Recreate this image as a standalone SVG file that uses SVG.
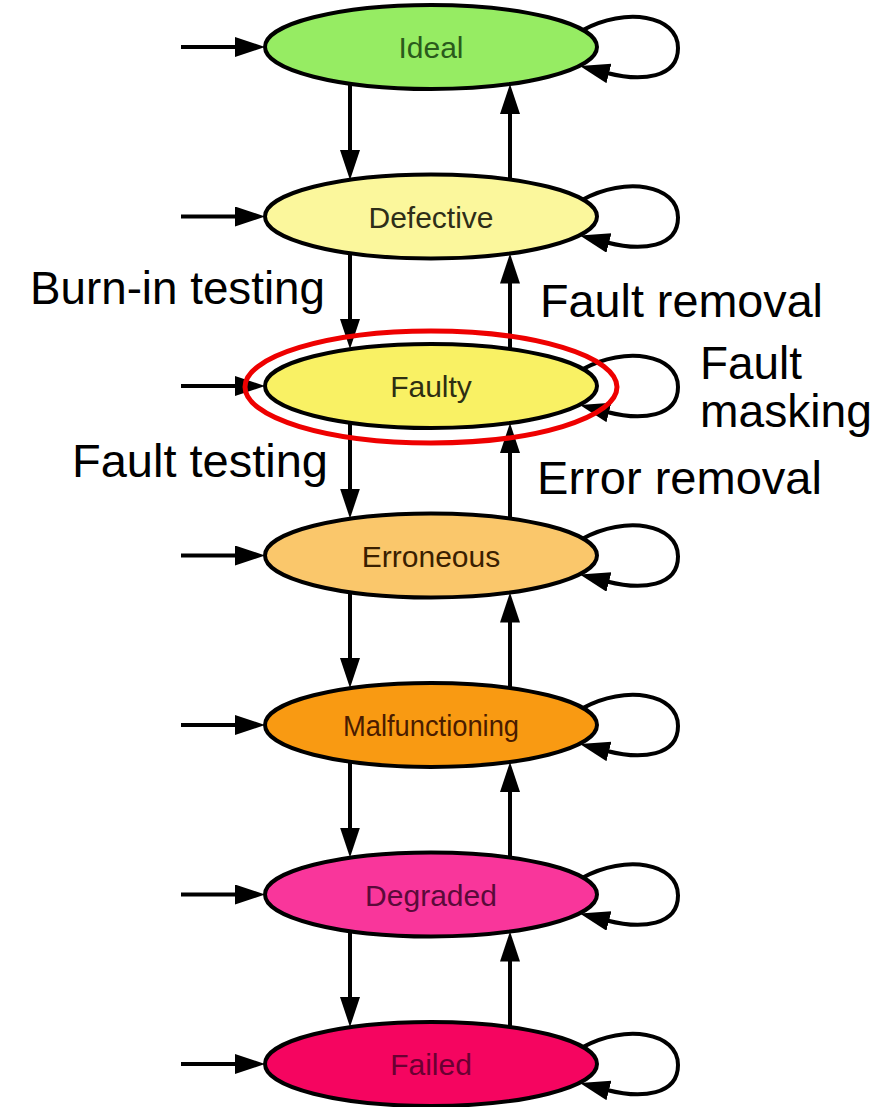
<svg xmlns="http://www.w3.org/2000/svg" width="884" height="1107" viewBox="0 0 884 1107">
<style>
.node{stroke:#000;stroke-width:4}
.nt{font-family:"Liberation Sans",Arial,sans-serif;font-size:30px;text-anchor:middle}
.lbl{font-family:"Liberation Sans",Arial,sans-serif;font-size:46px;fill:#000}
.edge{fill:none;stroke:#000;stroke-width:4;marker-end:url(#ah)}
</style>
<defs>
<marker id="ah" markerUnits="userSpaceOnUse" markerWidth="32" markerHeight="22" refX="2" refY="10" orient="auto" viewBox="0 0 32 22">
<path d="M0,0 L30,10 L0,20 z" fill="#000"/>
</marker>
</defs>
<rect width="884" height="1107" fill="#fff"/>
<g id="connectors">
<path class="edge" d="M181 47 H237"/>
<path class="edge" d="M181 216.5 H237"/>
<path class="edge" d="M181 386 H237"/>
<path class="edge" d="M181 555.5 H237"/>
<path class="edge" d="M181 725 H237"/>
<path class="edge" d="M181 894.5 H237"/>
<path class="edge" d="M181 1064 H237"/>
<path class="edge" d="M350 84 V152"/>
<path class="edge" d="M350 253.5 V321"/>
<path class="edge" d="M350 423 V490.5"/>
<path class="edge" d="M350 592.5 V660"/>
<path class="edge" d="M350 762 V829.5"/>
<path class="edge" d="M350 931.5 V999"/>
<path class="edge" d="M510 179.5 V112"/>
<path class="edge" d="M510 349 V281.5"/>
<path class="edge" d="M510 518.5 V451"/>
<path class="edge" d="M510 688 V620.5"/>
<path class="edge" d="M510 857.5 V790"/>
<path class="edge" d="M510 1027 V959.5"/>
<path class="edge" d="M583 30 C625 7,678 15,678 48 C678 78,642 82,607 73"/>
<path class="edge" d="M583 199.5 C625 176.5,678 184.5,678 217.5 C678 247.5,642 251.5,607 242.5"/>
<path class="edge" d="M583 369 C625 346,678 354,678 387 C678 417,642 421,607 412"/>
<path class="edge" d="M583 538.5 C625 515.5,678 523.5,678 556.5 C678 586.5,642 590.5,607 581.5"/>
<path class="edge" d="M583 708 C625 685,678 693,678 726 C678 756,642 760,607 751"/>
<path class="edge" d="M583 877.5 C625 854.5,678 862.5,678 895.5 C678 925.5,642 929.5,607 920.5"/>
<path class="edge" d="M583 1047 C625 1024,678 1032,678 1065 C678 1095,642 1099,607 1090"/>
</g>
<g id="ideal"><ellipse class="node" cx="431" cy="47" rx="166" ry="42" fill="#96ec63"/><text class="nt" x="431" y="58" fill="#2a5a1c">Ideal</text></g>
<g id="defective"><ellipse class="node" cx="431" cy="216.5" rx="166" ry="42" fill="#fbf79c"/><text class="nt" x="431" y="227.5" fill="#2e2e18">Defective</text></g>
<g id="faulty"><ellipse class="node" cx="431" cy="386" rx="166" ry="42" fill="#f9f164"/><text class="nt" x="431" y="397" fill="#2e2e12">Faulty</text></g>
<g id="erroneous"><ellipse class="node" cx="431" cy="555.5" rx="166" ry="42" fill="#fac76b"/><text class="nt" x="431" y="566.5" fill="#3a2000">Erroneous</text></g>
<g id="malfunctioning"><ellipse class="node" cx="431" cy="725" rx="166" ry="42" fill="#f99a12"/><text class="nt" x="431" y="736" fill="#4a1c00" textLength="176" lengthAdjust="spacingAndGlyphs">Malfunctioning</text></g>
<g id="degraded"><ellipse class="node" cx="431" cy="894.5" rx="166" ry="42" fill="#f9369b"/><text class="nt" x="431" y="905.5" fill="#5a0a3a">Degraded</text></g>
<g id="failed"><ellipse class="node" cx="431" cy="1064" rx="166" ry="42" fill="#f50560"/><text class="nt" x="431" y="1075" fill="#6a0032">Failed</text></g>
<g id="highlight"><ellipse cx="431" cy="387" rx="186" ry="56" fill="none" stroke="#ee0000" stroke-width="5"/></g>
<g id="labels">
<text class="lbl" x="30" y="304" textLength="295" lengthAdjust="spacingAndGlyphs">Burn-in testing</text>
<text class="lbl" x="540" y="317" textLength="283" lengthAdjust="spacingAndGlyphs">Fault removal</text>
<text class="lbl" x="700" y="379" textLength="102" lengthAdjust="spacingAndGlyphs">Fault</text>
<text class="lbl" x="700" y="427" textLength="172" lengthAdjust="spacingAndGlyphs">masking</text>
<text class="lbl" x="72" y="477" textLength="256" lengthAdjust="spacingAndGlyphs">Fault testing</text>
<text class="lbl" x="537" y="494" textLength="285" lengthAdjust="spacingAndGlyphs">Error removal</text>
</g>
</svg>
